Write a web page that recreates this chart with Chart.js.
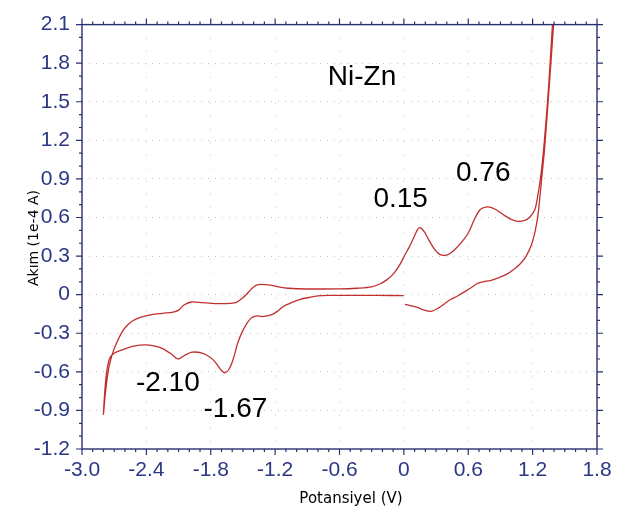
<!DOCTYPE html>
<html>
<head>
<meta charset="utf-8">
<script src="https://cdn.jsdelivr.net/npm/chart.js@4"></script>
<style>
  html, body { margin: 0; padding: 0; background: #ffffff; }
  #wrap { width: 624px; height: 513px; position: relative; }
</style>
</head>
<body>
<div id="wrap"><canvas id="c" width="624" height="513"></canvas></div>
<script>
// ---- data ----
// potential (V) and current (1e-4 A), in scan order along the single traced curve
const potential = [
  0.01, 0.06, 0.12, 0.19, 0.25, 0.32, 0.38, 0.43, 0.50, 0.56, 0.62, 0.68, 0.74, 0.805, 0.88, 0.96, 1.03, 1.085, 1.14, 1.19, 1.225, 1.25, 1.27, 1.29, 1.31, 1.34, 1.37, 1.395, 1.41,
  1.40, 1.385, 1.35, 1.31, 1.28, 1.25, 1.22, 1.17, 1.12, 1.06, 1.00, 0.93, 0.86, 0.80, 0.76, 0.71, 0.66, 0.60, 0.54, 0.48, 0.43, 0.386, 0.33, 0.28, 0.23, 0.19, 0.155, 0.13, 0.09, 0.05, 0.01, -0.04, -0.10, -0.16, -0.22, -0.30, -0.44,
  -0.60, -0.80, -1.00, -1.08, -1.14, -1.23, -1.33, -1.38, -1.42, -1.47, -1.51, -1.56, -1.62, -1.70, -1.79, -1.88, -1.98, -2.05, -2.10, -2.15, -2.25, -2.35, -2.45, -2.53, -2.58, -2.63, -2.69, -2.72, -2.75, -2.78, -2.80,
  -2.79, -2.77, -2.74, -2.70, -2.63, -2.52, -2.41, -2.32, -2.25, -2.17, -2.105, -2.04, -1.975, -1.88, -1.80, -1.76, -1.70, -1.67, -1.63, -1.59, -1.55, -1.51, -1.46, -1.42, -1.37, -1.32, -1.23, -1.18, -1.12, -1.06, -0.98, -0.90, -0.80, -0.70, -0.50, -0.25, 0.00
];
const current = [
  -0.075, -0.085, -0.097, -0.12, -0.13, -0.105, -0.07, -0.04, -0.01, 0.02, 0.05, 0.085, 0.10, 0.11, 0.13, 0.16, 0.20, 0.24, 0.30, 0.39, 0.50, 0.62, 0.78, 0.95, 1.12, 1.45, 1.80, 2.10, 2.30,
  2.30, 2.10, 1.63, 1.20, 0.95, 0.78, 0.66, 0.60, 0.575, 0.57, 0.585, 0.62, 0.66, 0.68, 0.68, 0.66, 0.59, 0.48, 0.41, 0.355, 0.32, 0.305, 0.315, 0.36, 0.43, 0.49, 0.52, 0.51, 0.44, 0.37, 0.31, 0.23, 0.16, 0.115, 0.085, 0.06, 0.05,
  0.045, 0.044, 0.046, 0.05, 0.056, 0.072, 0.08, 0.072, 0.045, 0.0, -0.03, -0.06, -0.068, -0.07, -0.067, -0.062, -0.057, -0.08, -0.12, -0.135, -0.145, -0.155, -0.175, -0.205, -0.24, -0.295, -0.40, -0.47, -0.57, -0.75, -0.93,
  -0.78, -0.60, -0.49, -0.455, -0.43, -0.40, -0.39, -0.40, -0.42, -0.46, -0.50, -0.47, -0.447, -0.455, -0.49, -0.523, -0.59, -0.607, -0.58, -0.50, -0.38, -0.295, -0.22, -0.18, -0.165, -0.17, -0.155, -0.13, -0.09, -0.067, -0.04, -0.024, -0.01, -0.006, -0.005, -0.006, -0.007
];
// axis ticks
const xTicks = [-3.0, -2.4, -1.8, -1.2, -0.6, 0, 0.6, 1.2, 1.8];
const yTicks = [-1.2, -0.9, -0.6, -0.3, 0, 0.3, 0.6, 0.9, 1.2, 1.5, 1.8, 2.1];
// text annotations placed in data coordinates
const noteTexts = ['Ni-Zn', '0.76', '0.15', '-2.10', '-1.67'];
const noteX = [-0.39, 0.74, -0.03, -2.20, -1.57];
const noteY = [1.69, 0.947, 0.74, -0.688, -0.888];
// axis titles
const xTitle = 'Potansiyel (V)';
const yTitle = 'Akım (1e-4 A)';

// ---- styling ----
const axisColor = '#283070';
const tickTextColor = '#2b3784';
const curveColor = '#c0302f';
const tickFont = { family: "'Liberation Sans Narrow', 'Liberation Sans', Arial, sans-serif", size: 21 };

const points = potential.map((v, i) => ({ x: v, y: current[i] }));
const fmt = v => (Math.abs(v) < 1e-9 ? '0' : v.toFixed(1));

const framePlugin = {
  id: 'frame',
  afterDraw(chart) {
    const ctx = chart.ctx;
    const xs = chart.scales.x, ys = chart.scales.y;
    const { left, right, top, bottom } = chart.chartArea;
    ctx.save();
    ctx.strokeStyle = axisColor;
    ctx.lineWidth = 1.4;
    ctx.strokeRect(left, top, right - left, bottom - top);
    ctx.lineWidth = 1.2;
    ctx.beginPath();
    const xMin = xTicks[0], xMax = xTicks[xTicks.length - 1];
    const nx = Math.round((xMax - xMin) / 0.1);
    for (let i = 0; i <= nx; i++) {
      const p = xs.getPixelForValue(xMin + i * 0.1);
      const len = (i % 6 === 0) ? 6 : 3;
      ctx.moveTo(p, bottom); ctx.lineTo(p, bottom + len);
      ctx.moveTo(p, top); ctx.lineTo(p, top - len);
    }
    const yMin = yTicks[0], yMax = yTicks[yTicks.length - 1];
    const ny = Math.round((yMax - yMin) / 0.1);
    for (let i = 0; i <= ny; i++) {
      const p = ys.getPixelForValue(yMin + i * 0.1);
      const len = (i % 3 === 0) ? 6 : 3;
      ctx.moveTo(left, p); ctx.lineTo(left - len, p);
      ctx.moveTo(right, p); ctx.lineTo(right + len, p);
    }
    ctx.stroke();

    // annotations
    ctx.fillStyle = '#000000';
    ctx.font = "28px 'Liberation Sans', Arial, sans-serif";
    ctx.textAlign = 'center';
    ctx.textBaseline = 'middle';
    noteTexts.forEach((t, i) => {
      ctx.fillText(t, xs.getPixelForValue(noteX[i]), ys.getPixelForValue(noteY[i]));
    });

    // axis titles
    ctx.fillStyle = '#000000';
    ctx.font = "15px 'DejaVu Sans', Verdana, sans-serif";
    ctx.fillText(xTitle, 351, 499);
    ctx.save();
    ctx.translate(34, 238);
    ctx.rotate(-Math.PI / 2);
    ctx.font = "14px 'DejaVu Sans', Verdana, sans-serif";
    ctx.fillText(yTitle, 0, 0);
    ctx.restore();
    ctx.restore();
  }
};

new Chart(document.getElementById('c'), {
  type: 'scatter',
  data: {
    datasets: [{
      data: points,
      showLine: true,
      borderColor: curveColor,
      borderWidth: 1.3,
      pointRadius: 0,
      pointHoverRadius: 0,
      tension: 0.3,
      fill: false
    }]
  },
  options: {
    responsive: false,
    animation: false,
    events: [],
    layout: { padding: { top: 15, right: 27, left: 0, bottom: 0 } },
    plugins: { legend: { display: false }, tooltip: { enabled: false } },
    scales: {
      x: {
        type: 'linear',
        min: xTicks[0],
        max: xTicks[xTicks.length - 1],
        afterBuildTicks: s => { s.ticks = xTicks.map(v => ({ value: v })); },
        afterFit: s => { s.height = 64; },
        ticks: { callback: v => fmt(v), color: tickTextColor, font: tickFont, padding: 9, maxRotation: 0, autoSkip: false },
        grid: { color: '#c4c4c4', lineWidth: 1, drawTicks: false },
        border: { display: false, dash: [1, 12] }
      },
      y: {
        type: 'linear',
        min: yTicks[0],
        max: yTicks[yTicks.length - 1],
        afterBuildTicks: s => { s.ticks = yTicks.map(v => ({ value: v })); },
        afterFit: s => { s.width = 82; },
        ticks: { callback: v => fmt(v), color: tickTextColor, font: tickFont, padding: 12, autoSkip: false },
        grid: { color: '#c4c4c4', lineWidth: 1, drawTicks: false },
        border: { display: false, dash: [1, 6] }
      }
    }
  },
  plugins: [framePlugin]
});
</script>
</body>
</html>
